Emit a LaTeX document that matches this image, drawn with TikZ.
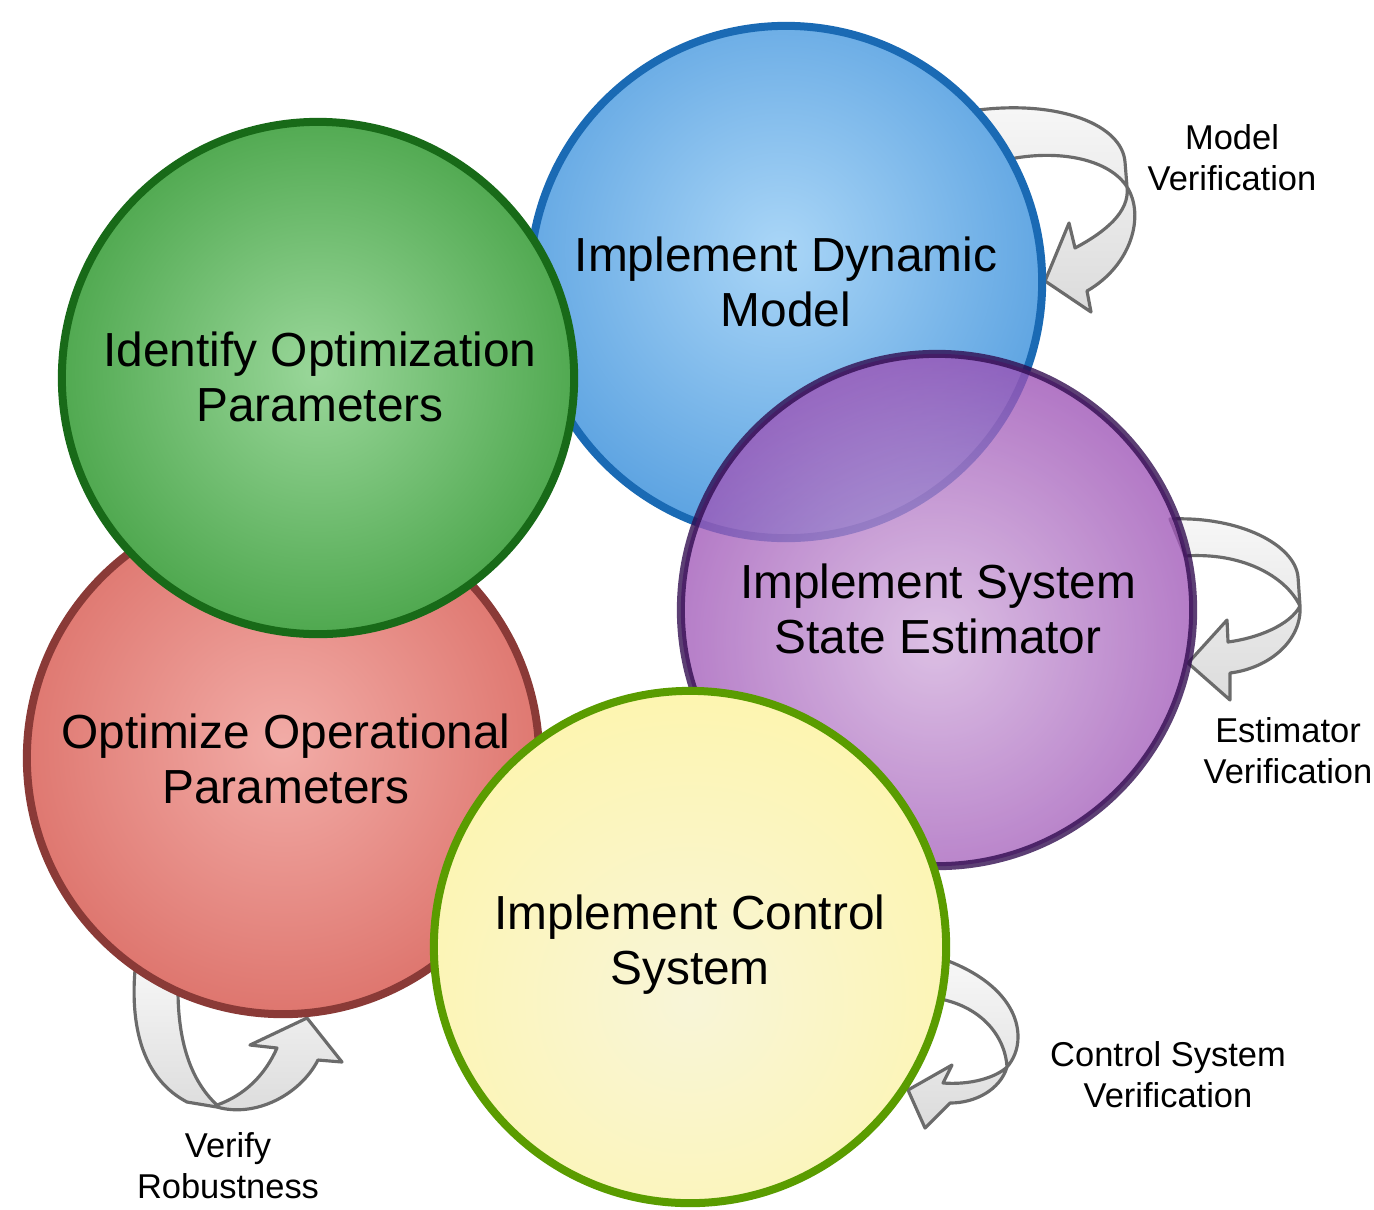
\documentclass[tikz,border=0pt]{standalone}
\usepackage{fontspec}
\setmainfont{Liberation Sans}
% phase colours
\definecolor{blueIn}{HTML}{AAD6F7}\definecolor{blueOut}{HTML}{3589D6}\definecolor{blueRim}{HTML}{1A6AB4}
\definecolor{greenIn}{HTML}{9AD79A}\definecolor{greenOut}{HTML}{1F8A1F}\definecolor{greenRim}{HTML}{186A18}
\definecolor{redIn}{HTML}{F2ACA7}\definecolor{redOut}{HTML}{D2554C}\definecolor{redRim}{HTML}{8A3A37}
\definecolor{purpIn}{HTML}{D2AEDC}\definecolor{purpOut}{HTML}{7F1FA0}\definecolor{purpRim}{HTML}{2E094D}
\definecolor{yelIn}{HTML}{F8F5D8}\definecolor{yelOut}{HTML}{FFF5A0}\definecolor{yelRim}{HTML}{5A9C00}
% a shaded phase disc: centre, highlight, inner, outer, rim, opacity
\newcommand\phaseball[6]{%
  \begin{scope}
    \clip #1 circle (2.56cm);
    \shade[inner color=#3, outer color=#4, fill opacity=#6] #2 circle (4.3cm);
  \end{scope}
  \draw[#5, line width=0.08cm, draw opacity=#6] #1 circle (2.56cm);}
\begin{document}
\begin{tikzpicture}[x=0.01cm, y=-0.01cm,
  phase/.style={font=\fontsize{13.6}{15.6}\selectfont, align=center, text=black},
  note/.style={font=\fontsize{9.8}{11.7}\selectfont, align=center, text=black},
  loop/.style={draw=black!58, line width=0.9pt, line join=round,
               top color=black!3, bottom color=black!14}]
\useasboundingbox (0,0) rectangle (1374,1209);

% disc centres and highlight points
\coordinate (cDyn) at (786,282);  \coordinate (hDyn) at (780,250);
\coordinate (cOpt) at (318,378);  \coordinate (hOpt) at (318,372);
\coordinate (cEst) at (937,610);  \coordinate (hEst) at (935,640);
\coordinate (cOpp) at (283,758);  \coordinate (hOpp) at (283,745);
\coordinate (cCtl) at (690,947);  \coordinate (hCtl) at (690,1000);

% twisted verification loops (behind the discs)
\path[loop] (978,110) .. controls (1060,100) and (1122,125) .. (1125,162)
  -- (1127,187) .. controls (1145,215) and (1132,265) .. (1087,291)
  -- (1091,312) -- (1045,281) -- (1069,223) -- (1075,248)
  .. controls (1105,232) and (1130,212) .. (1127,187)
  .. controls (1110,160) and (1060,148) .. (1005,160) -- cycle;
\path[loop] (1170,519) .. controls (1240,516) and (1295,545) .. (1298,577)
  -- (1300,606) .. controls (1302,640) and (1270,668) .. (1230,673)
  -- (1230,700) -- (1188,663) -- (1227,620) -- (1228,642)
  .. controls (1258,638) and (1290,625) .. (1300,606)
  .. controls (1285,575) and (1240,552) .. (1185,556) -- cycle;
\path[loop] (940,958) .. controls (990,975) and (1018,1005) .. (1018,1037)
  .. controls (1018,1050) and (1013,1060) .. (1007,1067)
  .. controls (1000,1090) and (975,1103) .. (950,1103)
  -- (925,1128) -- (908,1090) -- (952,1065) -- (943,1083)
  .. controls (970,1085) and (995,1078) .. (1007,1067)
  .. controls (1005,1035) and (980,1005) .. (935,998) -- cycle;
\path[loop] (136,960) .. controls (128,1030) and (145,1080) .. (187,1102)
  -- (217,1107) .. controls (255,1118) and (300,1095) .. (318,1060)
  -- (342,1062) -- (307,1018) -- (250,1045) -- (277,1048)
  .. controls (265,1075) and (245,1095) .. (217,1105)
  .. controls (190,1080) and (178,1040) .. (178,990) -- cycle;

% phase discs, back to front
\phaseball{(cDyn)}{(hDyn)}{blueIn}{blueOut}{blueRim}{1}
\phaseball{(cOpp)}{(hOpp)}{redIn}{redOut}{redRim}{1}
\phaseball{(cOpt)}{(hOpt)}{greenIn}{greenOut}{greenRim}{1}
\phaseball{(cEst)}{(hEst)}{purpIn}{purpOut}{purpRim}{0.78}
\phaseball{(cCtl)}{(hCtl)}{yelIn}{yelOut}{yelRim}{1}

% phase titles
\node[phase] (tDyn) at (786,282) {Implement Dynamic\\Model};
\node[phase] (tOpt) at (320,377) {Identify Optimization\\Parameters};
\node[phase] (tEst) at (938,609) {Implement System\\State Estimator};
\node[phase] (tOpp) at (286,759) {Optimize Operational\\Parameters};
\node[phase] (tCtl) at (690,945) {Implement Control\\System};

% loop captions
\node[note] (nDyn) at (1232,158) {Model\\Verification};
\node[note] (nEst) at (1288,751) {Estimator\\Verification};
\node[note] (nCtl) at (1168,1075) {Control System\\Verification};
\node[note] (nOpp) at (228,1166) {Verify\\Robustness};
\end{tikzpicture}
\end{document}
